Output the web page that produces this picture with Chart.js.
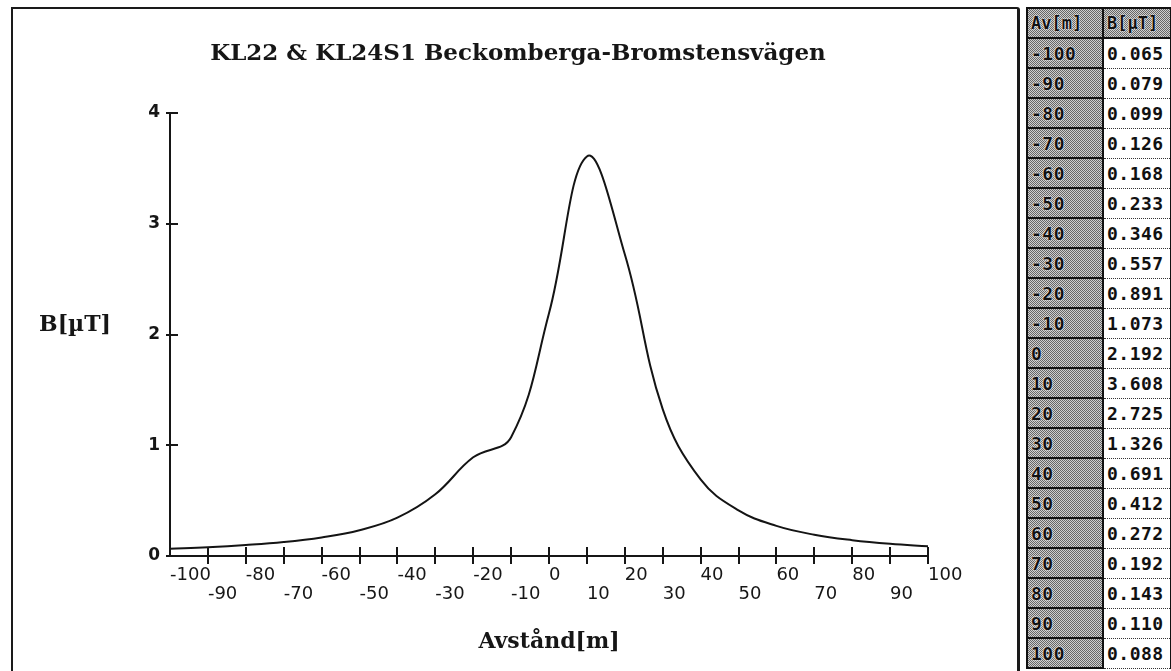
<!DOCTYPE html>
<html><head><meta charset="utf-8">
<script src="https://cdn.jsdelivr.net/npm/chart.js@4.4.0/dist/chart.umd.min.js"></script>
<style>
html,body{margin:0;padding:0;background:#fff;width:1171px;height:671px;overflow:hidden;}
#frame{position:absolute;left:11px;top:7px;width:1004px;height:700px;border-left:2px solid #1a1a1a;border-top:2px solid #1a1a1a;border-right:3px solid #1a1a1a;border-top-right-radius:3px;}
#wrap{position:absolute;left:0;top:0;width:1020px;height:671px;}
#tbl{position:absolute;left:1026px;top:7px;width:142px;border-left:2px solid #111;border-right:2px solid #111;border-top:2px solid #111;font-family:"DejaVu Sans Mono",monospace;font-weight:bold;font-size:18px;color:#111;}
.row{display:flex;height:30px;box-sizing:border-box;}
.c1,.c2{box-sizing:border-box;height:30px;line-height:29px;white-space:nowrap;overflow:hidden;letter-spacing:0.5px;}
.c1{width:76px;border-right:2px solid #111;border-bottom:2px solid #111;padding-left:3px;
 background-color:#a0a0a0;background-image:repeating-conic-gradient(#666 0 25%, #cfcfcf 0 50%);background-size:2px 2px;
 text-shadow:0 0 2px #fff,0 0 1px #fff;}
.c2{flex:1;border-bottom:1px dotted #333;padding-left:3px;background:#fff;}
.hdr .c2{background-color:#a0a0a0;background-image:repeating-conic-gradient(#666 0 25%, #cfcfcf 0 50%);background-size:2px 2px;border-bottom:2px solid #111;text-shadow:0 0 2px #fff,0 0 1px #fff;font-size:17px;letter-spacing:0;}
.hdr .c1{font-size:17px;letter-spacing:0;}
</style>
</head><body>
<div id="frame"></div>
<div id="wrap"><canvas id="c" width="1020" height="671"></canvas></div>
<div id="tbl"></div>
<script>
const distances   = [-100,-90,-80,-70,-60,-50,-40,-30,-20,-10,0,10,20,30,40,50,60,70,80,90,100];
const fieldValues = [0.065,0.079,0.099,0.126,0.168,0.233,0.346,0.557,0.891,1.073,2.192,3.608,2.725,1.326,0.691,0.412,0.272,0.192,0.143,0.110,0.088];
const xTickValues = [-100,-90,-80,-70,-60,-50,-40,-30,-20,-10,0,10,20,30,40,50,60,70,80,90,100];
const yTickValues = [0,1,2,3,4];
const chartTitle  = 'KL22 & KL24S1 Beckomberga-Bromstensvägen';
const yAxisTitle  = 'B[µT]';
const xAxisTitle  = 'Avstånd[m]';
const tableHeaders = ['Av[m]','B[µT]'];

// table
const tbl = document.getElementById('tbl');
function addRow(a,b,hdr){
  const r=document.createElement('div'); r.className='row'+(hdr?' hdr':'');
  const c1=document.createElement('div'); c1.className='c1'; c1.textContent=a;
  const c2=document.createElement('div'); c2.className='c2'; c2.textContent=b;
  r.appendChild(c1); r.appendChild(c2); tbl.appendChild(r);
}
addRow(tableHeaders[0],tableHeaders[1],true);
distances.forEach((d,i)=>addRow(String(d), fieldValues[i].toFixed(3), false));

const ink = '#161616';
const crossAxes = {
  id:'crossAxes',
  afterDatasetsDraw(chart){
    const {ctx, chartArea:a, scales:{x,y}} = chart;
    ctx.save();
    ctx.strokeStyle=ink; ctx.lineWidth=2; ctx.lineCap='butt';
    ctx.beginPath();
    ctx.moveTo(a.left, a.top); ctx.lineTo(a.left, a.bottom); ctx.lineTo(a.right, a.bottom);
    yTickValues.forEach(v=>{ const py=Math.round(y.getPixelForValue(v)); ctx.moveTo(a.left-4,py); ctx.lineTo(a.left+8,py); });
    xTickValues.forEach(v=>{ if(v===x.min) return; const px=Math.round(x.getPixelForValue(v)); ctx.moveTo(px,a.bottom-9); ctx.lineTo(px,a.bottom+8); });
    ctx.stroke();
    ctx.fillStyle=ink; ctx.textAlign='center'; ctx.textBaseline='alphabetic';
    ctx.font='bold 23px "DejaVu Serif"';
    ctx.fillText(chartTitle, a.left+348, a.top-53);
    ctx.font='bold 22px "DejaVu Serif"';
    ctx.fillText(yAxisTitle, a.left-95, (a.top+a.bottom)/2-4);
    ctx.restore();
  }
};

new Chart(document.getElementById('c'), {
  type:'line',
  data:{datasets:[{
    data: distances.map((d,i)=>({x:d, y:fieldValues[i]})),
    borderColor:'#141414', borderWidth:2, pointRadius:0, tension:0.4, fill:false
  }]},
  options:{
    responsive:false, animation:false,
    layout:{padding:{left:130, right:92, top:113, bottom:0}},
    plugins:{legend:{display:false}, tooltip:{enabled:false}, title:{display:false}},
    scales:{
      x:{type:'linear', min:-100, max:100,
        grid:{display:false, drawTicks:false}, border:{display:false},
        afterBuildTicks:s=>{ s.ticks = xTickValues.map(v=>({value:v})); },
        afterFit:s=>{ s.height = 115; },
        ticks:{align:'start', padding:9, maxRotation:0, minRotation:0, autoSkip:false,
          font:{family:'DejaVu Sans', size:18, lineHeight:1.1}, color:ink,
          callback:(v)=> (Math.abs(Math.round(v/10))%2===0 ? [String(v)] : ['', String(v)])},
        title:{display:true, text:xAxisTitle, color:ink, font:{family:'DejaVu Serif', size:22, weight:'bold'}, padding:{top:0,bottom:16}}
      },
      y:{min:0, max:4,
        grid:{display:false, drawTicks:false}, border:{display:false},
        afterBuildTicks:s=>{ s.ticks = yTickValues.map(v=>({value:v})); },
        afterFit:s=>{ s.width = 40; },
        ticks:{padding:10, font:{family:'DejaVu Sans', size:17, weight:'bold'}, color:ink}
      }
    }
  },
  plugins:[crossAxes]
});
</script>
</body></html>
